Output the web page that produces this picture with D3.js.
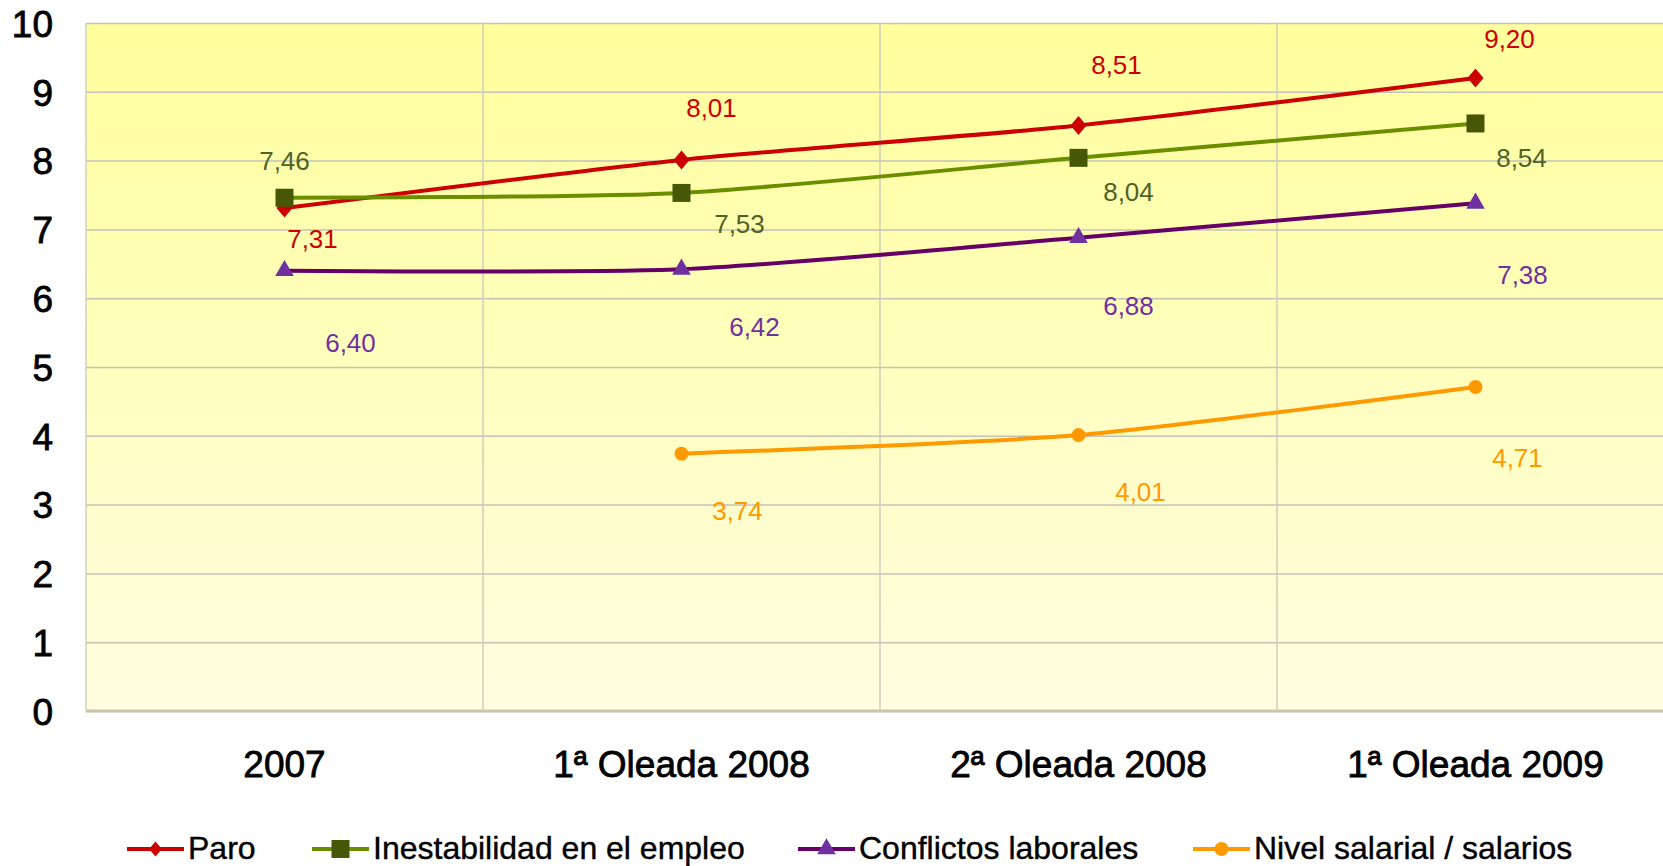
<!DOCTYPE html>
<html>
<head>
<meta charset="utf-8">
<script src="https://cdn.jsdelivr.net/npm/d3@7"></script>
<style>
  body { margin: 0; background: #fff; }
  svg { display: block; font-family: "Liberation Sans", Arial, sans-serif; }
</style>
</head>
<body>
<div class="chart"></div>
<script>
// data
const categories = ["2007", "1ª Oleada 2008", "2ª Oleada 2008", "1ª Oleada 2009"];
const paro = [7.31, 8.01, 8.51, 9.20];
const inestabilidad = [7.46, 7.53, 8.04, 8.54];
const conflictos = [6.40, 6.42, 6.88, 7.38];
const nivelSalarial = [null, 3.74, 4.01, 4.71];
const seriesNames = ["Paro", "Inestabilidad en el empleo", "Conflictos laborales", "Nivel salarial / salarios"];
const yTicks = [0, 1, 2, 3, 4, 5, 6, 7, 8, 9, 10];

// where each value label sits relative to its point (dx to centre, dy to baseline)
const labelOffsets = [
  [[28, 40], [30, -43], [38, -52], [34, -30]],
  [[0, -28], [58, 40], [50, 43], [46, 44]],
  [[66, 81], [73, 67], [50, 77], [47, 81]],
  [null, [56, 66], [62, 66], [42, 80]]
];

let margin = { top: 23, left: 86 };
let W = 1663, H = 866;
let plotW = 1588, plotH = 688;

let svg = d3.select(".chart").append("svg")
  .attr("width", W)
  .attr("height", H);

let defs = svg.append("defs");
let grad = defs.append("linearGradient")
  .attr("id", "bg").attr("x1", 0).attr("y1", 0).attr("x2", 0).attr("y2", 1);
grad.append("stop").attr("offset", "0%").attr("stop-color", "#ffff9c");
grad.append("stop").attr("offset", "100%").attr("stop-color", "#fffde0");

let g = svg.append("g")
  .attr("transform", "translate(" + margin.left + "," + margin.top + ")");

let x = d3.scaleBand().domain(categories).range([0, plotW]).padding(0);
let y = d3.scaleLinear().domain([0, 10]).range([plotH, 0]);

g.append("rect")
  .attr("width", plotW).attr("height", plotH)
  .attr("fill", "url(#bg)");

// horizontal grid
g.append("g")
  .call(d3.axisLeft(y).tickValues(yTicks).tickSize(-plotW).tickFormat(""))
  .call(s => s.select(".domain").remove())
  .selectAll("line")
  .attr("stroke", "#c4c2b8").attr("stroke-width", 1.5);

// vertical grid at category boundaries
g.selectAll(".vgrid")
  .data(categories.slice(1))
  .enter().append("line")
  .attr("class", "vgrid")
  .attr("x1", d => x(d)).attr("x2", d => x(d))
  .attr("y1", 0).attr("y2", plotH)
  .attr("stroke", "#cfccb8").attr("stroke-width", 1.5);

// left border and bottom axis line
g.append("line").attr("x1", 0).attr("x2", 0).attr("y1", 0).attr("y2", plotH)
  .attr("stroke", "#d2cfbd").attr("stroke-width", 1.5);
g.append("line").attr("x1", 0).attr("x2", plotW).attr("y1", plotH).attr("y2", plotH)
  .attr("stroke", "#c9c4ac").attr("stroke-width", 3);

// y axis labels
g.append("g")
  .call(d3.axisLeft(y).tickValues(yTicks).tickSize(0).tickPadding(33))
  .call(s => s.select(".domain").remove())
  .selectAll("text")
  .attr("font-size", 37).attr("fill", "#000").attr("dy", "0.36em")
  .attr("stroke", "#000").attr("stroke-width", 0.8)
  .attr("font-family", "Liberation Sans, Arial, sans-serif");

// x axis labels
g.append("g")
  .attr("transform", "translate(0," + plotH + ")")
  .call(d3.axisBottom(x).tickSize(0).tickPadding(40))
  .call(s => s.select(".domain").remove())
  .selectAll("text")
  .attr("font-size", 37).attr("fill", "#000")
  .attr("stroke", "#000").attr("stroke-width", 0.8)
  .attr("font-family", "Liberation Sans, Arial, sans-serif");

// marker shapes
function diamondPath(s) {
  return "M0," + (-s * 9.5) + "L" + (s * 8) + ",0L0," + (s * 9.5) + "L" + (-s * 8) + ",0Z";
}
let symbols = [
  s => diamondPath(s),
  s => d3.symbol(d3.symbolSquare, 324 * s * s)(),
  s => d3.symbol(d3.symbolTriangle, 150 * s * s)(),
  s => d3.symbol(d3.symbolCircle, 155 * s * s)()
];

let seriesList = [
  { name: seriesNames[0], values: paro, line: "#cc0000", marker: "#cc0000", label: "#cc0000" },
  { name: seriesNames[1], values: inestabilidad, line: "#6b8e00", marker: "#465806", label: "#4f6228" },
  { name: seriesNames[2], values: conflictos, line: "#660066", marker: "#7030a0", label: "#7030a0" },
  { name: seriesNames[3], values: nivelSalarial, line: "#ff9900", marker: "#ff9900", label: "#ff9900" }
];

let fmt = d3.formatLocale({ decimal: ",", thousands: ".", grouping: [3], currency: ["", "€"] }).format(".2f");

let line = d3.line()
  .defined(d => d.v != null)
  .x(d => x(d.c) + x.bandwidth() / 2)
  .y(d => y(d.v))
  .curve(d3.curveCardinal.tension(0.3));

seriesList.forEach(function(s, i) {
  let pts = categories.map((c, j) => ({ c: c, v: s.values[j], j: j }));
  let valid = pts.filter(d => d.v != null);

  g.append("path")
    .datum(valid)
    .attr("d", line)
    .attr("fill", "none")
    .attr("stroke", s.line)
    .attr("stroke-width", 4)
    .attr("stroke-linejoin", "round");

  g.selectAll(".m" + i)
    .data(valid)
    .enter().append("path")
    .attr("class", "m" + i)
    .attr("d", symbols[i](1))
    .attr("transform", d => "translate(" + (x(d.c) + x.bandwidth() / 2) + "," + y(d.v) + ")")
    .attr("fill", s.marker);

  g.selectAll(".l" + i)
    .data(valid)
    .enter().append("text")
    .attr("class", "l" + i)
    .attr("x", d => x(d.c) + x.bandwidth() / 2 + labelOffsets[i][d.j][0])
    .attr("y", d => y(d.v) + labelOffsets[i][d.j][1])
    .attr("text-anchor", "middle")
    .attr("font-size", 26)
    .attr("fill", s.label)
    .text(d => fmt(d.v));
});

// legend
let legendX = [127, 312, 798, 1193];
let legend = svg.append("g").attr("transform", "translate(0,849)");
seriesList.forEach(function(s, i) {
  let item = legend.append("g").attr("transform", "translate(" + legendX[i] + ",0)");
  item.append("line")
    .attr("x1", 0).attr("x2", 57).attr("y1", 0).attr("y2", 0)
    .attr("stroke", s.line).attr("stroke-width", 4);
  item.append("path")
    .attr("d", symbols[i](i == 0 ? 0.8 : 1))
    .attr("transform", "translate(28.5,0)")
    .attr("fill", s.marker);
  item.append("text")
    .attr("x", 61).attr("y", 10)
    .attr("font-size", 32)
    .attr("fill", "#000")
    .attr("stroke", "#000").attr("stroke-width", 0.4)
    .text(s.name);
});
</script>
</body>
</html>
